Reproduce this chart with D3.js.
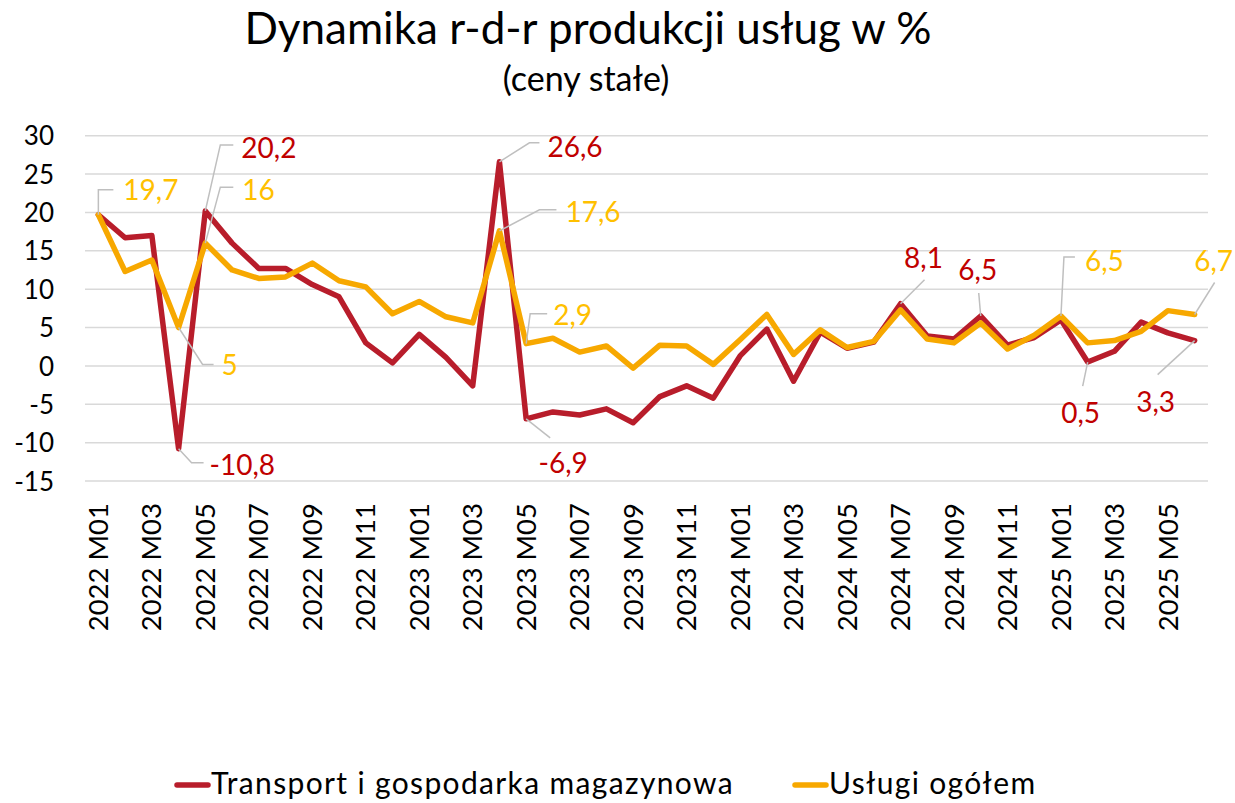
<!DOCTYPE html>
<html><head><meta charset="utf-8">
<script src="https://cdn.jsdelivr.net/npm/d3@7"></script>
<style>
html,body{margin:0;padding:0;background:#fff;}
svg{display:block;font-family:Lato, "Open Sans", sans-serif;}
</style></head>
<body>
<svg id="chart" width="1235" height="803"></svg>
<script>
// ---- data ----
const years = [2022, 2023, 2024, 2025];
const months = ["M01","M02","M03","M04","M05","M06","M07","M08","M09","M10","M11","M12"];
const categories = [];
years.forEach(y => months.forEach(m => { if (!(y === 2025 && +m.slice(1) > 6)) categories.push(y + " " + m); }));
const transport = [19.7, 16.7, 17.0, -10.8, 20.2, 16.0, 12.7, 12.7, 10.6, 9.0, 3.0, 0.4,
                   4.1, 1.1, -2.6, 26.6, -6.9, -6.0, -6.4, -5.6, -7.4, -4.0, -2.6, -4.2,
                   1.3, 4.8, -2.0, 4.4, 2.3, 3.1, 8.1, 3.9, 3.5, 6.5, 2.7, 3.7,
                   6.0, 0.5, 1.9, 5.7, 4.3, 3.3];
const uslugi = [19.7, 12.3, 13.8, 5.0, 16.0, 12.5, 11.4, 11.6, 13.4, 11.1, 10.3, 6.8,
                8.4, 6.4, 5.6, 17.6, 2.9, 3.6, 1.8, 2.6, -0.3, 2.7, 2.6, 0.2,
                3.4, 6.7, 1.5, 4.7, 2.4, 3.2, 7.3, 3.5, 3.0, 5.6, 2.2, 4.0,
                6.5, 3.0, 3.3, 4.5, 7.2, 6.7];
const yTicks = [-15, -10, -5, 0, 5, 10, 15, 20, 25, 30];
const seriesNames = ["Transport i gospodarka magazynowa", "Usługi ogółem"];

// ---- styles ----
const lineColors = ["#B81D2B", "#F7A800"];
const labelColors = ["#C00000", "#FFC000"];

// labelled points: series, index, text offset, anchor, leader elbow (relative to point)
const labels = [
  {s:1, i:0,  dx:25, dy:-25, a:"start",  lead:[[0,-25],[15,-25]]},
  {s:0, i:4,  dx:36, dy:-63, a:"start",  lead:[[15,-66],[28,-66]]},
  {s:1, i:4,  dx:37, dy:-53, a:"start",  lead:[[15,-56],[28,-56]]},
  {s:1, i:3,  dx:43, dy:38,  a:"start",  lead:[[24,37],[35,37]]},
  {s:0, i:3,  dx:31, dy:16,  a:"start",  lead:[[13,14],[25,14]]},
  {s:0, i:15, dx:48, dy:-15, a:"start",  lead:[[30,-19],[40,-19]]},
  {s:1, i:15, dx:66, dy:-19, a:"start",  lead:[[40,-21],[57,-21]]},
  {s:1, i:16, dx:27, dy:-28, a:"start",  lead:[[4,-30],[21,-30]]},
  {s:0, i:16, dx:37, dy:44,  a:"middle", lead:[[24,19]]},
  {s:0, i:30, dx:23, dy:-46, a:"middle", lead:[[24,-24]]},
  {s:0, i:33, dx:-3, dy:-46, a:"middle", lead:[[-2,-23]]},
  {s:1, i:36, dx:24, dy:-55, a:"start",  lead:[[3,-59],[14,-59]]},
  {s:0, i:37, dx:-7, dy:51,  a:"middle", lead:[[-5,24]]},
  {s:1, i:41, dx:19, dy:-53, a:"middle", lead:[[20,-32]]},
  {s:0, i:41, dx:-39,dy:62,  a:"middle", lead:[[-37,34]]}
];

const svg = d3.select("#chart");
const margin = {left:85, right:1208, top:135.7, bottom:481};

const x = d3.scaleBand().domain(categories).range([margin.left, margin.right]).paddingInner(0).paddingOuter(0);
const xc = d => x(d) + x.bandwidth()/2;
const y = d3.scaleLinear().domain([-15, 30]).range([margin.bottom, margin.top]);

// title
svg.append("text").attr("x", 588).attr("y", 44).attr("text-anchor","middle")
  .attr("font-size", 44).attr("fill","#000").text("Dynamika r-d-r produkcji usług w %");
svg.append("text").attr("x", 586).attr("y", 91).attr("text-anchor","middle")
  .attr("font-size", 34).attr("fill","#000").text("(ceny stałe)");

// gridlines
svg.append("g").selectAll("line").data(yTicks).join("line")
  .attr("x1", margin.left).attr("x2", margin.right)
  .attr("y1", d => y(d)).attr("y2", d => y(d))
  .attr("stroke", "#d9d9d9").attr("stroke-width", 1.5);

// y axis
const yAxis = d3.axisLeft(y).tickValues(yTicks).tickSize(0).tickPadding(0).tickFormat(d => d);
const gy = svg.append("g").attr("transform", "translate(54,0)").call(yAxis);
gy.select(".domain").remove();
gy.selectAll("text").attr("font-size", 26).attr("font-family","Lato").attr("fill","#000").attr("dy","0.35em");

// x axis
const xTickVals = categories.filter((c, i) => i % 2 === 0 && i < categories.length - 1);
const xAxis = d3.axisBottom(x).tickValues(xTickVals).tickSize(0).tickPadding(0);
const gx = svg.append("g").attr("transform", `translate(0,${margin.bottom})`).call(xAxis);
gx.select(".domain").remove();
gx.selectAll("text")
  .attr("font-size", 27.5).attr("font-family","Lato").attr("fill","#000")
  .attr("text-anchor","end")
  .attr("transform","rotate(-90)")
  .attr("x", -22).attr("y", 0).attr("dy","0.35em");

// lines
const seriesData = [transport, uslugi];
const line = d3.line().x((d, i) => xc(categories[i])).y(d => y(d));
seriesData.forEach((s, k) => {
  svg.append("path").datum(s).attr("d", line)
    .attr("fill","none").attr("stroke", lineColors[k]).attr("stroke-width", 5.5)
    .attr("stroke-linejoin","round").attr("stroke-linecap","round");
});

// leader lines and labels
const fmt = v => String(v).replace(".", ",");
const gl = svg.append("g");
labels.forEach(l => {
  const v = seriesData[l.s][l.i];
  const px = xc(categories[l.i]), py = y(v);
  const pts = [[px, py]].concat(l.lead.map(p => [px + p[0], py + p[1]]));
  gl.append("path").attr("d", d3.line()(pts)).attr("fill","none")
    .attr("stroke","#bfbfbf").attr("stroke-width",1.5);
  gl.append("text").attr("x", px + l.dx).attr("y", py + l.dy).attr("dy","0.35em")
    .attr("text-anchor", l.a).attr("font-size", 28).attr("fill", labelColors[l.s])
    .text(fmt(v));
});

// legend
const leg = [{x:177, tx:211}, {x:795, tx:829}];
seriesNames.forEach((n, k) => {
  svg.append("line").attr("x1", leg[k].x).attr("x2", leg[k].x + 31).attr("y1", 785).attr("y2", 785)
    .attr("stroke", lineColors[k]).attr("stroke-width", 5.5).attr("stroke-linecap","round");
  svg.append("text").attr("x", leg[k].tx).attr("y", 794).attr("font-size", 30)
    .attr("letter-spacing", 1.35).attr("fill","#000").text(n);
});
</script>
</body></html>
